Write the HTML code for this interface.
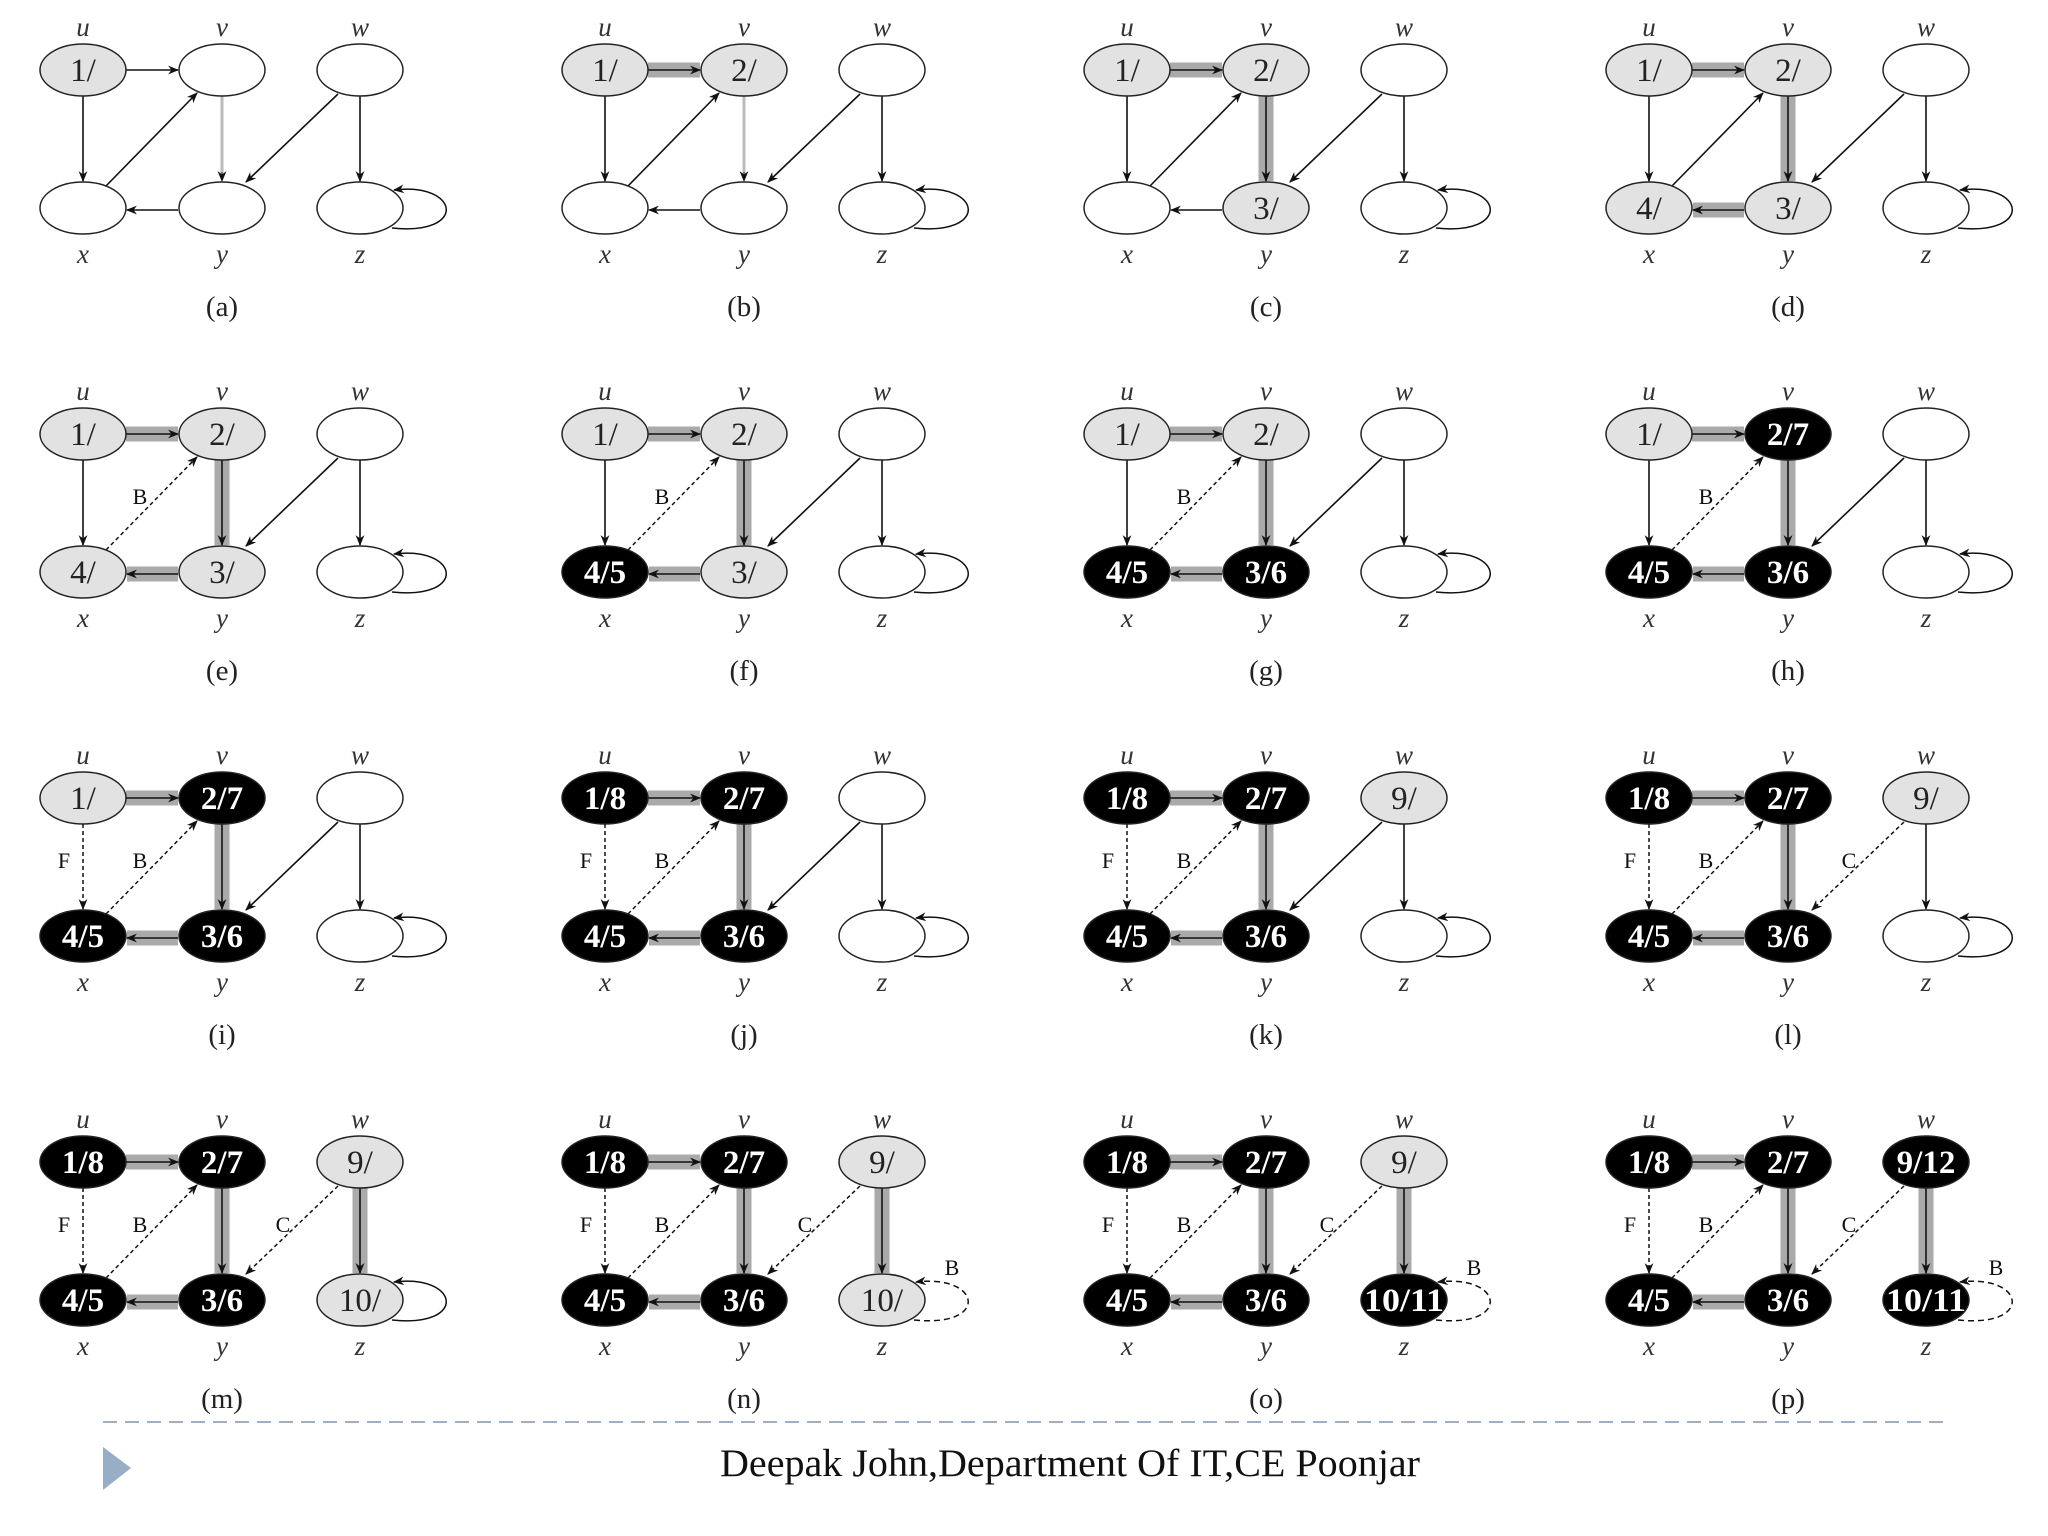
<!DOCTYPE html>
<html><head><meta charset="utf-8"><style>
html,body{margin:0;padding:0;background:#fff;}
svg{display:block;}
</style></head><body>
<svg id="s" width="2048" height="1536" viewBox="0 0 2048 1536" xmlns="http://www.w3.org/2000/svg">
<defs>
<marker id="ar" viewBox="0 0 10 10" refX="9" refY="5" markerWidth="11" markerHeight="11" markerUnits="userSpaceOnUse" orient="auto"><path d="M0,1 L10,5 L0,9 L3,5 z" fill="#111"/></marker>
</defs>
<g id="g"></g>
<line x1="103" y1="1422" x2="1945" y2="1422" stroke="#9fb0c4" stroke-width="2" stroke-dasharray="14,8"/>
<polygon points="103,1447 131,1468 103,1490" fill="#98aec6"/>
<text x="1070" y="1476" font-family="'Liberation Serif', serif" font-size="39" text-anchor="middle" fill="#111" textLength="700" lengthAdjust="spacingAndGlyphs">Deepak John,Department Of IT,CE Poonjar</text>
</svg>
<script>
var N={u:[83,70],v:[222,70],w:[360,70],x:[83,208],y:[222,208],z:[360,208]};
var E={uv:[126,70,178,70],ux:[83,96,83,181],xv:[106,186,197,93],vy:[222,96,222,181],wy:[338,94,246,182],wz:[360,96,360,181],yx:[178,210,127,210]};
var LBL={ux:[64,140,'F'],xv:[140,140,'B'],wy:[283,140,'C'],zz:[430,183,'B']};
var nodes={u:['w',''],v:['w',''],w:['w',''],x:['w',''],y:['w',''],z:['w','']};
var edges={uv:'n',ux:'n',xv:'n',vy:'l',wy:'n',wz:'n',yx:'n',zz:'n'};
function snap(){return {n:JSON.parse(JSON.stringify(nodes)),e:JSON.parse(JSON.stringify(edges))};}
var seq=[];
nodes.u=['g','1/'];seq.push(snap());
nodes.v=['g','2/'];edges.uv='t';seq.push(snap());
nodes.y=['g','3/'];edges.vy='t';seq.push(snap());
nodes.x=['g','4/'];edges.yx='t';seq.push(snap());
edges.xv='d';seq.push(snap());
nodes.x=['b','4/5'];seq.push(snap());
nodes.y=['b','3/6'];seq.push(snap());
nodes.v=['b','2/7'];seq.push(snap());
edges.ux='d';seq.push(snap());
nodes.u=['b','1/8'];seq.push(snap());
nodes.w=['g','9/'];seq.push(snap());
edges.wy='d';seq.push(snap());
nodes.z=['g','10/'];edges.wz='t';seq.push(snap());
edges.zz='d';seq.push(snap());
nodes.z=['b','10/11'];seq.push(snap());
nodes.w=['b','9/12'];seq.push(snap());
var h='';
var F='font-family="\'Liberation Serif\', serif"';
for(var i=0;i<16;i++){
 var ox=(i%4)*522, oy=Math.floor(i/4)*364, s=seq[i];
 h+='<g transform="translate('+ox+','+oy+')">';
 for(var k in E){ if(s.e[k]=='t'){var c=E[k];h+='<line x1="'+c[0]+'" y1="'+c[1]+'" x2="'+c[2]+'" y2="'+c[3]+'" stroke="#aaa" stroke-width="15"/>';}}
 for(var k in E){var c=E[k],t=s.e[k];
  var a='x1="'+c[0]+'" y1="'+c[1]+'" x2="'+c[2]+'" y2="'+c[3]+'" marker-end="url(#ar)"';
  if(t=='n'||t=='t')h+='<line '+a+' stroke="#111" stroke-width="1.6"/>';
  else if(t=='l')h+='<line x1="'+c[0]+'" y1="'+c[1]+'" x2="'+c[2]+'" y2="'+(c[3]-8)+'" stroke="#bbb" stroke-width="3"/><line x1="'+c[0]+'" y1="'+(c[3]-9)+'" x2="'+c[2]+'" y2="'+c[3]+'" stroke="#111" stroke-width="1" marker-end="url(#ar)"/>';
  else {h+='<line '+a+' stroke="#111" stroke-width="1.5" stroke-dasharray="4,3"/>';
   var L=LBL[k];h+='<text x="'+L[0]+'" y="'+L[1]+'" '+F+' font-size="22" text-anchor="middle" fill="#111">'+L[2]+'</text>';}
 }
 var zd=s.e.zz=='d';
 h+='<path d="M392,228 C468,236 460,182 394,190" fill="none" stroke="#111" stroke-width="1.5" '+(zd?'stroke-dasharray="6,4"':'')+' marker-end="url(#ar)"/>';
 if(zd)h+='<text x="430" y="183" '+F+' font-size="22" text-anchor="middle" fill="#111">B</text>';
 for(var k in N){var p=N[k],nd=s.n[k];
  var fill=nd[0]=='w'?'#fff':nd[0]=='g'?'#e2e2e2':'#000';
  h+='<ellipse cx="'+p[0]+'" cy="'+p[1]+'" rx="43" ry="26" fill="'+fill+'" stroke="#222" stroke-width="1.5"/>';
  if(nd[1]){var big=nd[0]=='b';var fs=33;
   h+='<text x="'+p[0]+'" y="'+(p[1]+11)+'" '+F+' font-size="'+fs+'" '+(big?'font-weight="bold" fill="#fff"':'fill="#222"')+' text-anchor="middle"'+(nd[1].length>=5?' textLength="80" lengthAdjust="spacingAndGlyphs"':'')+'>'+nd[1]+'</text>';}
  var ly=p[1]<100?36:263;
  h+='<text x="'+p[0]+'" y="'+ly+'" '+F+' font-style="italic" font-size="27" text-anchor="middle" fill="#333">'+k+'</text>';
 }
 h+='<text x="222" y="316" '+F+' font-size="29" text-anchor="middle" fill="#222">('+'abcdefghijklmnop'[i]+')</text>';
 h+='</g>';
}
document.getElementById('g').innerHTML=h;
</script>
</body></html>
